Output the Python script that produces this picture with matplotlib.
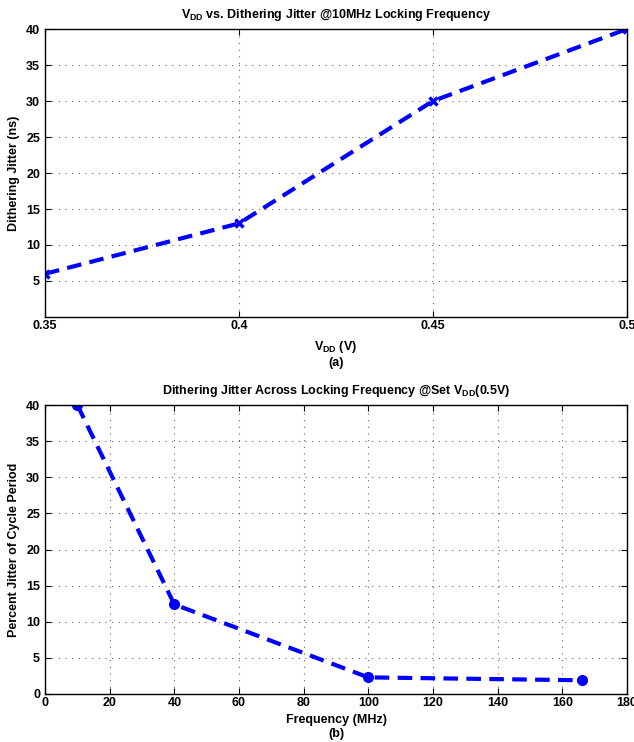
import matplotlib
matplotlib.use('Agg')
import matplotlib.pyplot as plt

# data
vdd = [0.35, 0.40, 0.45, 0.50]
jitter_ns = [6.0, 13.0, 30.0, 40.0]

freq_mhz = [10, 40, 100, 166]
jitter_pct = [40.0, 12.4, 2.3, 1.9]

vdd_ticks = [0.35, 0.4, 0.45, 0.5]
vdd_ticklabels = ['0.35', '0.4', '0.45', '0.5']
jit_ticks = [5, 10, 15, 20, 25, 30, 35, 40]
freq_ticks = [0, 20, 40, 60, 80, 100, 120, 140, 160, 180]
pct_ticks = [0, 5, 10, 15, 20, 25, 30, 35, 40]

plt.rcParams['font.family'] = ['Liberation Sans', 'DejaVu Sans']
plt.rcParams['font.weight'] = 'bold'
plt.rcParams['mathtext.fontset'] = 'custom'
plt.rcParams['mathtext.rm'] = 'Liberation Sans:bold'
plt.rcParams['mathtext.bf'] = 'Liberation Sans:bold'
plt.rcParams['mathtext.it'] = 'Liberation Sans:bold'

FS = 9


def style_axes(ax):
    ax.grid(True, linestyle=(0, (1, 5)), color='#666666', linewidth=0.8)
    ax.tick_params(direction='in', length=4, width=0.8, labelsize=FS,
                   top=True, right=True)
    ax.tick_params(axis='x', pad=2)
    for s in ax.spines.values():
        s.set_linewidth(1.0)
    for lab in ax.get_xticklabels() + ax.get_yticklabels():
        lab.set_fontweight('bold')


fig = plt.figure(figsize=(6.34, 7.42), dpi=100)
ax1 = fig.add_axes([45 / 634, 1 - 317 / 742, 582 / 634, 288 / 742])
ax2 = fig.add_axes([45 / 634, 1 - 694 / 742, 582 / 634, 289 / 742])

ax1.plot(vdd, jitter_ns, color='blue', linewidth=3,
         dashes=(3.5, 2), marker='x', markersize=6, markeredgewidth=2.5)
ax1.set_xlim(0.35, 0.5)
ax1.set_ylim(0, 40)
ax1.set_xticks(vdd_ticks)
ax1.set_xticklabels(vdd_ticklabels)
ax1.set_yticks(jit_ticks)
style_axes(ax1)
ax1.set_title(r'$\mathrm{V_{DD}}$ vs. Dithering Jitter @10MHz Locking Frequency',
              fontsize=FS, fontweight='bold', pad=8)
ax1.set_ylabel('Dithering Jitter (ns)', fontsize=FS, fontweight='bold')
ax1.set_xlabel(r'$\mathrm{V_{DD}}$ (V)' + '\n(a)', fontsize=FS,
               fontweight='bold', labelpad=5, linespacing=1.2)

ax2.plot(freq_mhz, jitter_pct, color='blue', linewidth=3,
         dashes=(3.5, 2), marker='o', markersize=7)
ax2.set_xlim(0, 180)
ax2.set_ylim(0, 40)
ax2.set_xticks(freq_ticks)
ax2.set_yticks(pct_ticks)
style_axes(ax2)
ax2.set_title(r'Dithering Jitter Across Locking Frequency @Set $\mathrm{V_{DD}}$(0.5V)',
              fontsize=FS, fontweight='bold', pad=8)
ax2.set_ylabel('Percent Jitter of Cycle Period', fontsize=FS, fontweight='bold')
ax2.set_xlabel('Frequency (MHz)\n(b)', fontsize=FS, fontweight='bold',
               labelpad=4, linespacing=1.2)

fig.savefig('out.png', dpi=100)
